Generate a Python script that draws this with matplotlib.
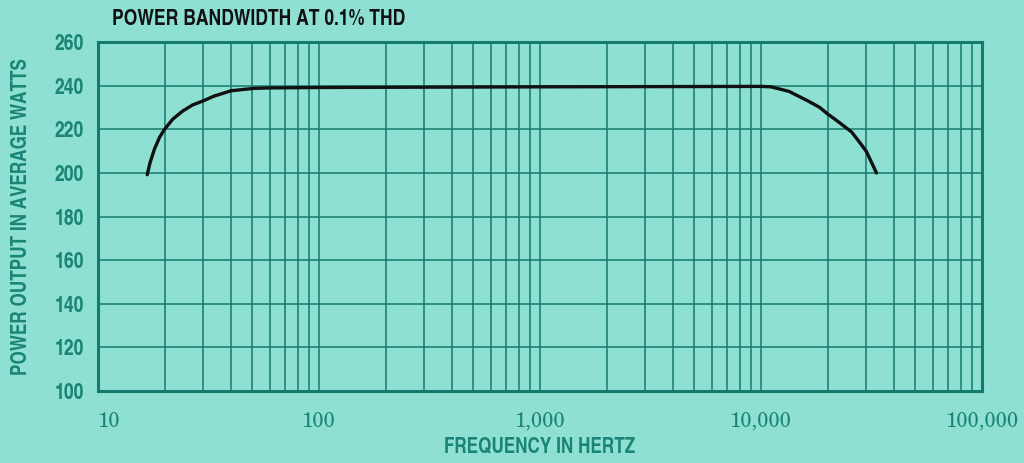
import matplotlib.pyplot as plt

# curve
freq_hz = [16.7, 17.2, 18.0, 19.0, 20, 21.8, 24.1, 26.8, 30, 33.4, 40, 50.8, 59,
           100, 1000, 10000, 11100, 13400, 16400, 18400, 20000, 22500, 25700, 28200, 30000, 33300]
power_w = [199.2, 204.7, 210.9, 216.4, 220, 224.7, 228.3, 231.2, 233.1, 235.2, 237.7, 238.8, 239,
           239.2, 239.5, 239.7, 239.5, 237.4, 232.9, 230.1, 227.1, 223.3, 218.8, 213.5, 209.8, 200]

x_ticks = [10, 100, 1000, 10000, 100000]
x_tick_labels = ['10', '100', '1,000', '10,000', '100,000']
y_ticks = [100, 120, 140, 160, 180, 200, 220, 240, 260]

bg = '#8ee0d2'
teal = '#157a6e'
text_teal = '#1a8576'
cond = ['TeX Gyre Heros Cn', 'DejaVu Sans']
serif = ['TeX Gyre Schola', 'Liberation Serif', 'DejaVu Serif']

fig = plt.figure(figsize=(10.24, 4.63), dpi=100, facecolor=bg)
ax = fig.add_axes([0.0957, 0.1555, 0.8633, 0.7535])
ax.set_facecolor(bg)

ax.set_xscale('log')
ax.set_xlim(10, 100000)
ax.set_ylim(100, 260)

# vertical rules at 2..9 of every decade, horizontal every 20 W
minor = [m * 10 ** d for d in range(1, 5) for m in range(2, 10)]
ax.set_xticks(x_ticks)
ax.set_xticks(minor, minor=True)
ax.set_xticklabels(x_tick_labels, family=serif, fontsize=14.5, color=text_teal)
ax.set_xticklabels([], minor=True)
ax.get_xticklabels()[0].set_horizontalalignment('left')
ax.set_yticks(y_ticks)
ax.set_yticklabels([str(v) for v in y_ticks], family=cond, fontsize=15.5,
                   fontweight='bold', color=text_teal)
ax.tick_params(which='both', length=0)
ax.tick_params(axis='x', pad=15)
ax.tick_params(axis='y', pad=10)
ax.grid(True, which='both', axis='x', color=teal, linewidth=1.1)
ax.grid(True, which='major', axis='y', color=teal, linewidth=1.1)

for s in ax.spines.values():
    s.set_color(teal)
    s.set_linewidth(2.2)

ax.plot(freq_hz, power_w, color='#111111', linewidth=2.4, solid_capstyle='round', zorder=5)

ax.set_xlabel('FREQUENCY IN HERTZ', family=cond, fontsize=15, fontweight='bold',
              color=text_teal, labelpad=4)
ax.set_ylabel('POWER OUTPUT IN AVERAGE WATTS', family=cond, fontsize=15,
              fontweight='bold', color=text_teal, labelpad=16)

fig.text(0.109, 0.958, 'POWER BANDWIDTH AT 0.1% THD', family=cond, fontsize=15.4,
         fontweight='bold', color='#111111', va='center', ha='left')

fig.savefig('out.png', dpi=100, facecolor=bg)
